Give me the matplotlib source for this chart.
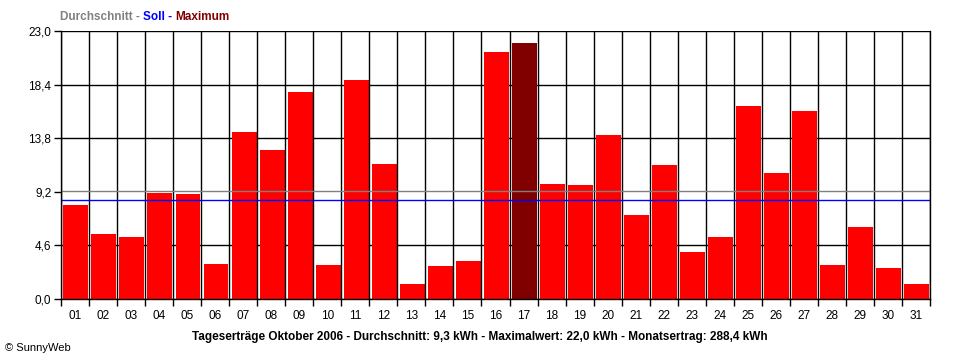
import numpy as np
import matplotlib
matplotlib.use('Agg')
import matplotlib.pyplot as plt

plt.rcParams['font.family'] = ['Liberation Sans', 'DejaVu Sans']

# daily yield October 2006 [kWh]
days = ['%02d' % d for d in range(1, 32)]
ertrag = [8.1, 5.6, 5.3, 9.1, 9.0, 3.0, 14.3, 12.8, 17.8, 2.9,
          18.8, 11.6, 1.3, 2.8, 3.3, 21.2, 22.0, 9.9, 9.8, 14.1,
          7.2, 11.5, 4.0, 5.3, 16.6, 10.8, 16.1, 2.9, 6.2, 2.7, 1.3]
durchschnitt = 9.3
soll = 8.5
y_ticks = [0.0, 4.6, 9.2, 13.8, 18.4, 23.0]

fig = plt.figure(figsize=(9.6, 3.6), dpi=100)
ax = fig.add_axes([61 / 960, 61 / 360, 869 / 960, 268 / 360])

x = np.arange(len(days))
imax = int(np.argmax(ertrag))
colors = ['#800000' if i == imax else '#FF0000' for i in range(len(days))]

# horizontal grid behind the bars (the average line takes the place of the one next to it)
for yt in y_ticks:
    if abs(yt - durchschnitt) < 0.15:
        continue
    ax.axhline(yt, color='black', lw=1.0, zorder=1)

ax.bar(x + 0.03, ertrag, width=0.89, color=colors, linewidth=0, zorder=2)

# vertical separators between days stay visible
for b in np.arange(len(days) + 1) - 0.5:
    ax.axvline(b, color='black', lw=1.0, zorder=3)

ax.axhline(durchschnitt, color='#808080', lw=1.0, zorder=4)
ax.axhline(soll, color='#0000FF', lw=1.0, zorder=4)

ax.set_xlim(-0.5, len(days) - 0.5)
ax.set_ylim(0, 23.0)
ax.set_yticks(y_ticks)
ax.set_yticklabels([('%.1f' % v).replace('.', ',') for v in y_ticks], fontsize=8.5)
ax.set_xticks(np.arange(len(days) + 1) - 0.5)
ax.set_xticklabels([])
ax.set_xticks(x, minor=True)
ax.set_xticklabels(days, minor=True, fontsize=8.5)
ax.tick_params(axis='x', which='minor', length=0, pad=8)
ax.tick_params(axis='x', which='major', length=5, width=1.0, direction='out')
ax.tick_params(axis='y', length=5, width=1.0, direction='out', pad=2)
for s in ax.spines.values():
    s.set_linewidth(1.0)
    s.set_zorder(5)
ax.spines['top'].set_visible(False)

# legend line at top
fig.canvas.draw()
r = fig.canvas.get_renderer()
parts = [('Durchschnitt - ', '#808080'), ('Soll - ', '#0000FF'), ('Maximum', '#800000')]
px = 60
for txt, c in parts:
    t = fig.text(px / 960, 1 - 17 / 360, txt, color=c, fontsize=8.5, fontweight='bold',
                 va='center', ha='left')
    px += t.get_window_extent(r).width

fig.text(480 / 960, 1 - 337 / 360,
         'Tageserträge Oktober 2006 - Durchschnitt: 9,3 kWh - Maximalwert: 22,0 kWh - Monatsertrag: 288,4 kWh',
         fontsize=8.5, fontweight='bold', ha='center', va='center')
fig.text(5 / 960, 1 - 348 / 360, '© SunnyWeb', fontsize=8, ha='left', va='center')

fig.savefig('out.png', dpi=100)
